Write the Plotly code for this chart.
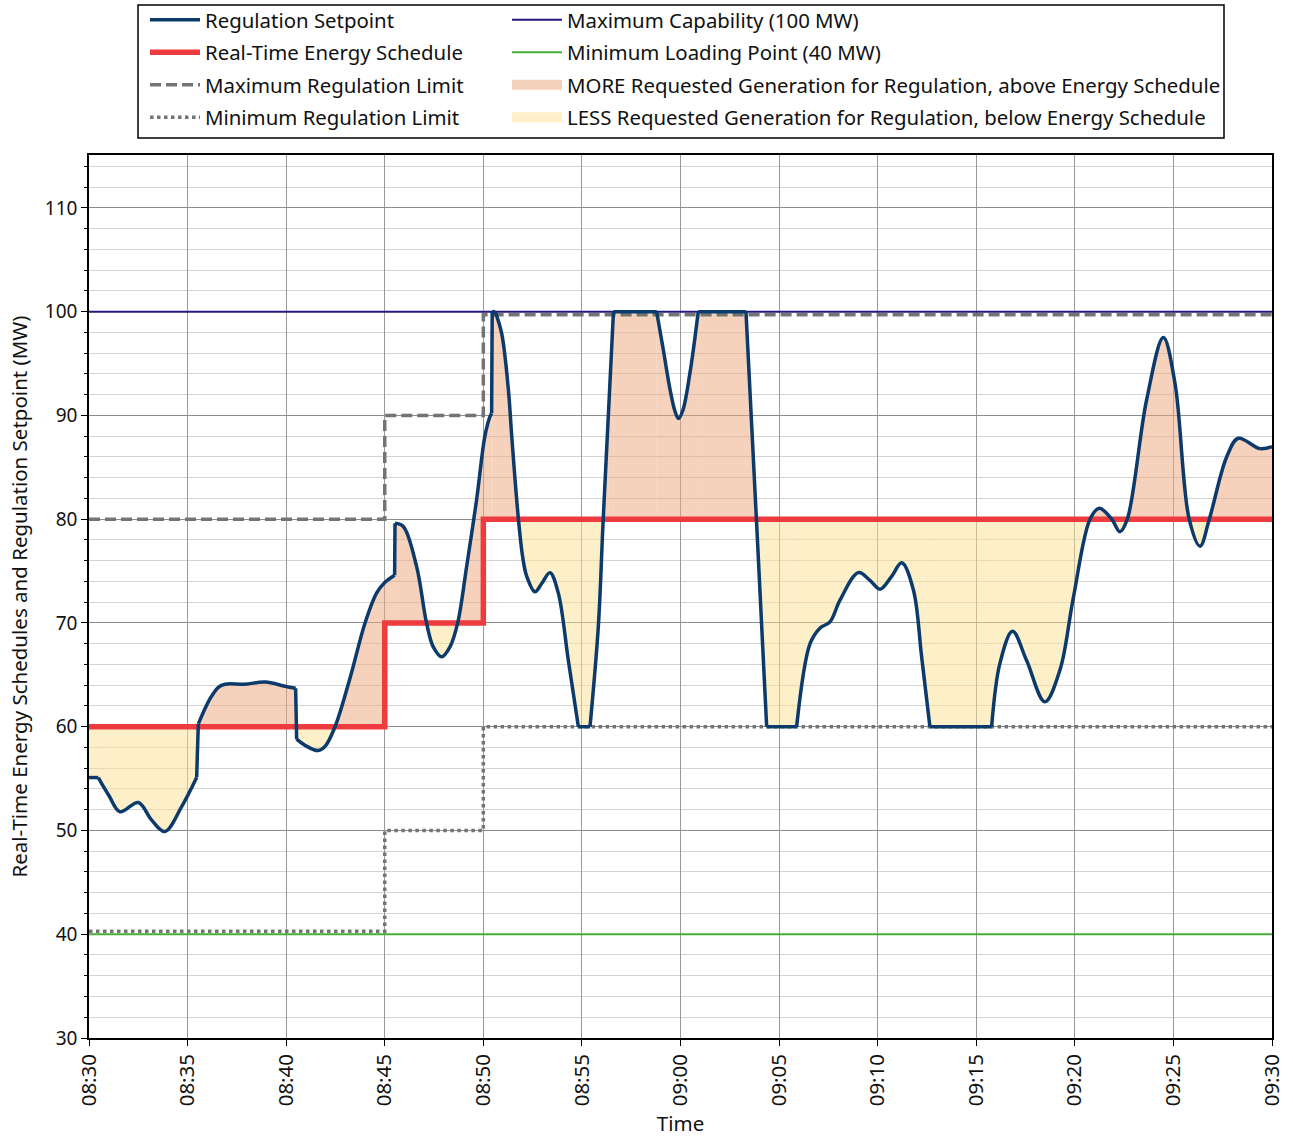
import pandas as pd
import plotly.graph_objects as go

BASE = pd.Timestamp("2024-01-01 08:30:00")

# ---------------- data (minutes after 08:30, MW) ----------------
setpoint_min = [
    0.00, 0.47, 1.00, 1.57, 2.50, 3.18, 3.85, 4.70, 5.46, 5.54, 5.55,
    6.14, 6.56, 6.90, 7.90, 8.93, 9.94, 10.48, 10.52, 10.53,
    10.96, 11.63, 11.97, 12.48, 13.24, 14.00, 14.59, 15.00, 15.50, 15.52,
    15.94, 16.62, 17.12, 17.46, 17.89, 18.31, 18.70, 19.15, 19.66, 20.08,
    20.34, 20.42, 20.45, 20.60, 20.93, 21.27, 21.44, 21.78, 22.00, 22.20,
    22.62, 22.96, 23.38, 23.80, 24.31, 24.82, 25.41, 25.83, 26.08, 26.60,
    28.79, 29.13, 29.47, 29.72, 29.90, 30.12, 30.48, 30.90, 33.32, 33.85,
    34.37, 35.89, 36.57, 37.07, 37.58, 38.09, 39.02, 39.61, 40.12, 40.71,
    41.22, 41.81, 42.23, 42.65, 45.78, 46.20, 46.84, 47.55, 48.48, 49.25,
    49.92, 50.77, 51.24, 51.87, 52.29, 52.66, 53.64, 54.49, 55.08, 55.80,
    56.35, 56.82, 57.70, 58.29, 59.39, 60.00,
]
setpoint_mw = [
    55.1, 55.1, 53.4, 51.8, 52.7, 51.0, 49.9, 52.3, 55.1, 60.0, 60.3,
    62.7, 63.8, 64.1, 64.1, 64.3, 63.9, 63.7, 60.0, 58.8,
    58.2, 57.7, 58.1, 60.0, 64.7, 70.0, 72.9, 73.9, 74.6, 79.6,
    79.3, 75.4, 70.0, 67.7, 66.75, 67.7, 70.0, 75.4, 81.9, 88.0,
    89.9, 90.2, 100.0, 100.0, 97.9, 92.5, 88.0, 80.0, 76.3, 74.5,
    73.0, 73.8, 74.85, 72.9, 66.4, 60.0, 60.0, 69.6, 80.0, 100.0,
    100.0, 96.3, 92.5, 90.4, 89.7, 90.5, 94.1, 100.0, 100.0, 80.0,
    60.0, 60.0, 68.0, 69.5, 70.1, 72.2, 74.85, 74.1, 73.25, 74.5,
    75.8, 73.2, 66.75, 60.0, 60.0, 66.1, 69.2, 66.4, 62.4, 65.5,
    72.4, 80.0, 81.05, 80.0, 78.8, 80.0, 91.5, 97.5, 93.1, 80.0,
    77.4, 80.0, 86.0, 87.8, 86.8, 87.0,
]
# sharp corners of the setpoint trace (limit clipping and jumps)
setpoint_kink_min = [0.47, 5.46, 5.55, 10.48, 10.53, 15.50, 15.52, 20.42,
                     20.45, 20.60, 24.82, 25.41, 26.60, 28.79, 30.90, 33.32,
                     34.37, 35.89, 42.65, 45.78]

schedule_min = [0, 15, 20, 60]
schedule_mw = [60, 70, 80, 80]

max_reg_min = [0, 15, 20, 60]
max_reg_mw = [80, 90, 99.7, 99.7]

min_reg_min = [0, 15, 20, 60]
min_reg_mw = [40.3, 50, 60, 60]

limit_min = [0, 60]
max_capability_mw = [100, 100]
min_loading_mw = [40, 40]

x_tick_min = [0, 5, 10, 15, 20, 25, 30, 35, 40, 45, 50, 55, 60]
x_tick_labels = ["08:30", "08:35", "08:40", "08:45", "08:50", "08:55", "09:00",
                 "09:05", "09:10", "09:15", "09:20", "09:25", "09:30"]
y_tick_vals = [30, 40, 50, 60, 70, 80, 90, 100, 110]

# ---------------- styles ----------------
FONT = "Noto Sans"
C_SET = "#0b3a6b"
C_SCHED = "#ee3b40"
C_MAXCAP = "#24177f"
C_MINLOAD = "#4aaa3c"
C_LIM = "#747474"
C_MORE = "rgba(238,168,126,0.52)"
C_LESS = "rgba(252,226,146,0.50)"

FIG_W, FIG_H = 1293, 1137


def t(m):
    return BASE + pd.Timedelta(minutes=m)


def ts(ms):
    return [t(m) for m in ms]


def sched_at(m):
    val = schedule_mw[0]
    for s, v in zip(schedule_min, schedule_mw):
        if m >= s - 1e-9:
            val = v
    return val


n = len(setpoint_min)
kink_idx = sorted(i for i, m in enumerate(setpoint_min)
                  if any(abs(m - k) < 1e-6 for k in setpoint_kink_min))
cross_idx = sorted(i for i, (m, v) in enumerate(zip(setpoint_min, setpoint_mw))
                   if 0 < i < n - 1 and abs(v - sched_at(m)) < 1e-9)


def pieces(breaks):
    b = [0] + sorted(set(breaks)) + [n - 1]
    out = []
    for a, c in zip(b[:-1], b[1:]):
        if c > a:
            out.append((a, c))
    return out


fig = go.Figure()

# ---- fills between setpoint and schedule ----
for a, c in pieces(kink_idx + cross_idx):
    ms = setpoint_min[a:c + 1]
    vs = setpoint_mw[a:c + 1]
    diff = sum(v - sched_at(m) for m, v in zip(ms, vs))
    if abs(diff) < 1e-9:
        continue
    kind = "more" if diff > 0 else "less"
    bx = [ms[0]] + [s for s in schedule_min if ms[0] < s < ms[-1]] + [ms[-1]]
    by = [sched_at(m) for m in bx]
    fig.add_trace(go.Scatter(x=ts(bx), y=by, mode="lines",
                             line=dict(width=0, shape="hv"),
                             showlegend=False, hoverinfo="skip"))
    fig.add_trace(go.Scatter(x=ts(ms), y=vs, mode="lines",
                             line=dict(width=0, shape="spline", smoothing=1),
                             fill="tonexty",
                             fillcolor=C_MORE if kind == "more" else C_LESS,
                             showlegend=False, hoverinfo="skip"))

# ---- reference lines ----
fig.add_trace(go.Scatter(x=ts(limit_min), y=max_capability_mw, mode="lines",
                         name="Maximum Capability (100 MW)",
                         line=dict(color=C_MAXCAP, width=2),
                         legend="legend2", legendrank=1, legendgroup="g5"))
fig.add_trace(go.Scatter(x=ts(limit_min), y=min_loading_mw, mode="lines",
                         name="Minimum Loading Point (40 MW)",
                         line=dict(color=C_MINLOAD, width=2),
                         legend="legend2", legendrank=2, legendgroup="g6"))
fig.add_trace(go.Scatter(x=ts(max_reg_min), y=max_reg_mw, mode="lines",
                         name="Maximum Regulation Limit",
                         line=dict(color=C_LIM, width=3.5, dash="11px,5px", shape="hv"),
                         legend="legend", legendrank=3, legendgroup="g3"))
fig.add_trace(go.Scatter(x=ts(min_reg_min), y=min_reg_mw, mode="lines",
                         name="Minimum Regulation Limit",
                         line=dict(color=C_LIM, width=3.5, dash="3.5px,3.5px", shape="hv"),
                         legend="legend", legendrank=4, legendgroup="g4"))
fig.add_trace(go.Scatter(x=ts(schedule_min), y=schedule_mw, mode="lines",
                         name="Real-Time Energy Schedule",
                         line=dict(color=C_SCHED, width=5.5, shape="hv"),
                         legend="legend", legendrank=2, legendgroup="g2"))

# ---- setpoint line (smooth pieces joined at sharp corners) ----
lx, ly = [], []
for a, c in pieces(kink_idx):
    if lx:
        lx.append(None)
        ly.append(None)
    lx += ts(setpoint_min[a:c + 1])
    ly += setpoint_mw[a:c + 1]
fig.add_trace(go.Scatter(x=lx, y=ly, mode="lines", name="Regulation Setpoint",
                         line=dict(color=C_SET, width=3.5, shape="spline", smoothing=1),
                         connectgaps=False, legend="legend", legendrank=1,
                         legendgroup="g1"))

# ---- legend swatches for fills ----
fig.add_trace(go.Scatter(x=[None], y=[None], mode="lines",
                         name="MORE Requested Generation for Regulation, above Energy Schedule",
                         line=dict(color=C_MORE, width=16),
                         legend="legend2", legendrank=3, legendgroup="g7"))
fig.add_trace(go.Scatter(x=[None], y=[None], mode="lines",
                         name="LESS Requested Generation for Regulation, below Energy Schedule",
                         line=dict(color=C_LESS, width=16),
                         legend="legend2", legendrank=4, legendgroup="g8"))

legend_common = dict(
    orientation="v", yanchor="top", xanchor="left",
    xref="paper", yref="container", y=1.0,
    font=dict(family=FONT, size=20.4, color="#111"),
    bgcolor="rgba(0,0,0,0)", borderwidth=0, itemwidth=50,
    traceorder="grouped", tracegroupgap=3,
)

fig.update_layout(
    width=FIG_W, height=FIG_H,
    paper_bgcolor="white", plot_bgcolor="white",
    margin=dict(l=89, r=21, t=155, b=99),
    font=dict(family=FONT, size=19, color="#111"),
    legend=dict(x=(145 - 89) / 1183, **legend_common),
    legend2=dict(x=(507 - 89) / 1183, **legend_common),
    shapes=[dict(type="rect", xref="paper", yref="paper",
                 x0=(138 - 89) / 1183, x1=(1224 - 89) / 1183,
                 y0=(1038 - 138) / 883, y1=(1038 - 5) / 883,
                 line=dict(color="black", width=1.5), fillcolor="rgba(0,0,0,0)")],
)

fig.update_xaxes(
    range=[t(0), t(60)], automargin=False,
    tickvals=ts(x_tick_min), ticktext=x_tick_labels, tickangle=-90,
    tickfont=dict(family=FONT, size=20.5),
    ticks="outside", ticklen=6, tickcolor="black",
    showgrid=True, gridcolor="#9a9a9a", gridwidth=1,
    showline=True, mirror=True, linecolor="black", linewidth=1.5,
    title=dict(text="Time", font=dict(family=FONT, size=20.5), standoff=12),
    zeroline=False,
)
fig.update_yaxes(
    range=[30, 115.1], tickvals=y_tick_vals, automargin=False,
    tickfont=dict(family=FONT, size=19),
    ticks="outside", ticklen=6, tickcolor="black",
    showgrid=True, gridcolor="#8c8c8c", gridwidth=1,
    minor=dict(dtick=2, showgrid=True, gridcolor="#d4d4d4", gridwidth=1,
               ticks="outside", ticklen=3, tickcolor="black"),
    showline=True, mirror=True, linecolor="black", linewidth=1.5,
    title=dict(text="Real-Time Energy Schedules and Regulation Setpoint (MW)",
               font=dict(family=FONT, size=20.5), standoff=12),
    zeroline=False,
)

fig.write_html("out.html", config={"displayModeBar": False},
               post_script="document.body.style.margin='0px';")
